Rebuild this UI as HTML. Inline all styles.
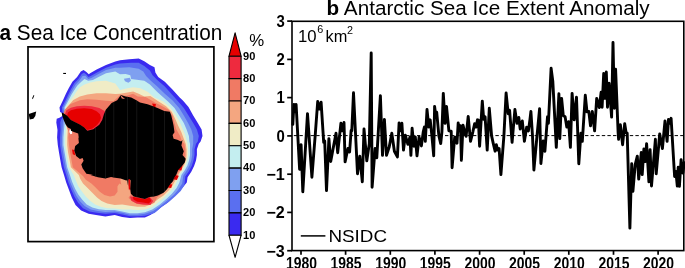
<!DOCTYPE html>
<html><head><meta charset="utf-8">
<style>
html,body{margin:0;padding:0;background:#fff;}
svg{display:block;font-family:"Liberation Sans",sans-serif;}
.tk{font-weight:bold;font-size:16.3px;}
.cb{font-weight:bold;font-size:11px;}
</style></head><body>
<svg width="685" height="268" viewBox="0 0 685 268">
<rect width="685" height="268" fill="#fff"/>
<!-- panel a title -->
<text id="ta" x="-0.5" y="40" font-size="21.2" textLength="222.8" lengthAdjust="spacingAndGlyphs"><tspan font-weight="bold">a</tspan> Sea Ice Concentration</text>
<!-- MAP -->
<g id="map">
<polygon points="120.0,60.3 129.3,59.3 138.7,58.4 144.3,61.2 149.9,64.9 154.5,67.2 155.4,72.4 158.2,77.1 164.8,81.7 172.2,89.2 179.7,97.6 182.9,100.6 188.5,107.1 193.2,115.5 197.8,123.0 201.6,129.5 202.5,136.0 200.6,141.6 198.8,143.7 196.9,149.3 196.9,154.9 196.0,160.5 194.1,166.1 191.3,171.7 187.6,177.3 186.8,182.5 183.1,187.1 178.4,191.8 172.8,197.4 167.2,203.0 161.6,206.7 156.0,211.4 150.4,215.1 144.9,217.5 137.4,217.5 129.9,217.9 122.2,217.0 114.7,215.1 105.4,216.4 96.0,215.1 88.6,213.8 81.1,210.4 75.5,204.9 71.8,197.4 69.0,189.9 66.2,182.5 64.0,175.0 61.6,167.3 60.3,159.9 59.0,152.4 57.8,144.9 57.1,137.5 57.5,130.0 56.3,122.4 56.7,118.7 59.5,117.7 62.3,115.9 63.2,113.4 60.1,112.1 59.5,107.5 63.1,100.0 65.9,93.8 68.7,88.2 72.4,81.7 77.1,77.1 80.8,71.5 83.6,70.1 86.4,72.0 88.8,74.3 90.1,73.3 96.6,69.6 106.0,64.9 115.3,61.6" fill="#3a2af0" />
<polygon points="120.0,63.4 131.2,62.7 138.7,62.7 144.3,65.9 149.9,70.5 152.6,75.2 157.3,79.9 164.8,86.4 172.2,94.8 177.3,100.6 183.8,108.1 188.5,115.5 193.2,123.0 196.9,129.5 198.8,136.0 197.8,141.6 196.0,143.7 194.5,149.3 194.5,154.9 193.5,160.5 191.7,166.1 188.9,171.3 185.3,176.6 184.4,185.3 180.7,190.9 175.6,196.1 169.1,201.7 161.6,207.1 154.6,212.9 144.9,215.7 137.4,216.2 129.9,216.2 122.2,214.6 114.7,212.9 105.4,213.8 97.0,212.7 89.5,211.4 83.0,208.2 78.3,203.0 74.6,197.0 71.4,189.9 68.4,182.5 66.2,175.0 63.8,167.3 62.5,159.9 61.2,152.4 60.1,144.9 60.1,137.5 60.6,130.0 60.3,122.4 61.2,119.6 62.7,117.7 64.2,115.9 64.6,113.4 62.3,112.1 61.9,107.5 65.7,100.0 68.3,94.4 70.9,89.2 74.3,83.2 78.4,78.9 81.7,73.9 84.0,72.8 86.4,74.6 88.4,77.1 90.7,76.1 97.0,72.4 106.0,67.7 115.3,64.6" fill="#5a6ff0" />
<polygon points="120.0,67.7 129.3,67.2 138.7,68.7 143.3,71.5 146.1,76.1 150.8,80.8 157.3,86.4 164.8,93.8 172.6,100.6 179.2,108.1 183.8,115.5 188.1,123.0 191.3,129.5 193.2,136.0 193.2,141.6 193.2,143.7 192.2,149.3 192.2,154.9 191.3,160.5 189.4,165.7 186.6,170.8 183.3,175.8 182.2,183.4 178.4,189.6 173.8,195.0 167.2,200.6 160.7,205.8 153.2,211.0 144.9,213.8 137.4,214.7 129.9,214.7 122.2,212.7 114.7,211.4 105.4,211.9 97.9,211.0 90.8,209.5 84.9,206.3 80.2,201.5 76.5,195.9 73.3,189.6 70.3,182.5 68.1,175.0 65.7,167.3 64.4,159.9 63.1,152.4 61.9,144.9 61.9,137.5 62.5,130.0 62.9,122.4 63.6,119.6 64.4,117.7 65.1,115.9 65.5,113.4 63.8,111.2 63.4,107.5 67.2,100.0 69.8,94.8 72.4,89.9 75.7,84.5 79.5,80.4 82.6,76.1 85.4,75.7 88.2,78.9 91.4,78.0 97.6,74.6 106.0,70.1 115.3,67.7" fill="#7fa0f0" />
<polygon points="120.0,74.3 125.6,73.9 130.3,75.2 131.2,78.9 138.7,79.9 144.3,80.8 149.9,84.5 157.3,92.0 168.0,101.5 174.5,108.1 179.2,115.5 183.8,123.0 186.6,129.5 188.9,136.0 189.4,141.6 190.0,143.7 190.0,149.3 190.0,154.9 189.1,160.5 187.4,165.4 184.8,170.2 181.4,175.1 179.4,182.5 176.6,188.1 171.9,193.7 166.3,198.9 159.8,204.5 152.3,209.5 144.9,212.3 137.4,213.2 129.9,213.2 122.2,211.4 114.7,210.1 105.7,210.1 98.8,209.3 92.3,207.6 86.7,204.5 82.1,199.6 78.3,194.6 75.1,188.8 72.2,182.1 69.9,175.0 67.2,167.3 65.9,159.9 64.6,152.4 63.4,144.9 63.4,137.5 64.0,130.0 64.7,122.4 65.5,119.6 65.7,117.7 66.0,115.9 66.4,113.4 64.9,111.2 64.6,107.5 68.7,100.0 71.3,95.1 73.9,90.7 77.2,85.8 81.0,82.1 84.5,78.9 88.2,80.8 92.9,79.9 98.5,77.1 106.0,73.3 115.3,71.5" fill="#c4eef0" />
<polygon points="120.0,90.1 127.5,88.2 133.1,87.3 140.5,88.2 148.0,92.0 154.5,97.6 163.3,101.5 169.9,107.1 175.4,114.6 179.2,121.1 182.0,127.6 184.8,134.2 186.3,139.8 187.6,143.7 188.1,149.3 188.1,154.9 187.4,160.1 185.7,165.0 183.1,169.9 179.9,174.5 174.7,186.2 170.0,191.8 164.4,197.4 158.8,202.1 152.3,207.1 144.9,209.5 137.4,210.1 129.9,209.5 122.2,209.5 114.7,208.6 107.2,208.2 100.7,206.7 95.1,204.5 90.4,201.1 85.8,196.5 82.1,191.8 78.3,186.2 75.9,180.6 73.7,175.0 69.0,167.3 67.7,159.9 66.4,152.4 65.3,144.9 65.3,137.5 65.9,130.0 66.6,122.4 67.4,119.6 67.0,117.7 67.2,115.9 67.5,113.4 66.0,111.2 65.7,107.5 70.5,100.0 73.3,96.6 76.1,92.0 79.9,87.3 84.5,84.5 90.1,82.6 96.6,81.3 106.0,80.8 115.3,83.6" fill="#f0ecc6" />
<polygon points="120.0,93.8 127.5,92.5 133.1,91.4 138.7,93.8 144.3,96.6 150.3,95.9 158.7,101.5 166.1,106.2 171.7,111.8 175.4,119.3 178.2,125.8 181.4,132.3 183.8,138.8 185.7,143.7 186.6,149.3 186.6,154.9 186.1,159.8 184.4,164.6 181.8,169.3 178.8,174.0 172.8,185.3 169.1,189.9 163.5,195.5 157.9,199.3 152.3,203.9 144.9,206.7 137.4,206.7 129.9,205.8 122.2,204.5 114.7,204.9 107.2,203.4 101.6,201.1 97.0,197.4 92.3,192.7 87.6,188.1 83.0,183.4 80.2,178.7 78.9,175.0 70.9,167.3 69.6,159.9 68.1,152.4 67.2,144.9 67.2,137.5 67.7,130.0 68.3,122.4 69.0,119.6 68.7,117.7 68.3,115.9 68.7,113.4 67.2,111.2 66.8,107.5 73.3,100.0 79.9,96.6 87.3,94.4 96.6,93.3 106.0,93.3 115.3,94.0" fill="#f4a680" />
<polygon points="120.0,95.3 126.5,95.7 133.1,93.8 137.7,96.6 145.6,96.9 154.9,102.5 162.4,106.2 168.9,109.9 172.6,115.5 174.5,123.0 176.4,129.5 180.1,136.0 182.0,141.6 184.4,143.7 185.3,149.3 185.3,154.9 185.0,159.4 183.3,164.3 180.7,168.7 177.7,173.6 171.0,184.3 167.2,188.4 162.6,193.3 157.0,197.4 154.2,203.0 144.9,204.9 137.4,203.9 131.8,201.1 128.1,197.4 124.0,186.2 119.4,183.4 117.5,186.2 117.5,191.8 114.7,195.5 110.0,196.5 104.4,195.1 99.8,191.8 95.1,187.1 91.4,183.4 85.8,179.7 83.0,175.9 72.8,167.3 71.5,159.9 70.1,152.4 69.0,144.9 68.3,137.5 68.7,131.9 64.0,119.9 63.1,114.3 64.9,109.6 70.5,104.0 79.9,100.3 87.3,99.3 96.6,99.7 106.0,100.8 113.4,101.2" fill="#f07a64" />
<polygon points="123.9,78.8 129.9,77.8 131.0,80.8 128.4,82.7 125.0,81.2" fill="#7fa0f0" />
<polygon points="120.2,178.7 128.1,179.1 128.4,186.2 130.9,194.6 128.1,198.3 123.4,193.7 121.5,186.2" fill="#f4a680" />
<polygon points="129.9,196.5 139.3,197.4 144.9,198.7 149.5,196.8 153.2,201.1 150.4,204.9 143.0,204.5 136.5,203.4 131.4,200.7" fill="#ee2a3e" />
<polygon points="64.9,114.3 66.4,110.2 70.9,107.7 76.9,106.2 84.3,105.7 91.8,106.2 99.3,108.0 104.5,111.0 107.5,115.4 107.5,119.9 104.5,124.4 100.7,127.4 94.8,130.7 87.3,131.9 84.3,127.4 79.9,124.4 75.4,122.2 70.9,119.9 67.2,115.7" fill="#ee2a3e" />
<polygon points="132.7,197.0 139.3,198.3 144.9,199.3 149.5,197.4 151.4,201.1 148.6,203.5 143.0,202.6 137.4,201.7 133.7,199.8" fill="#e60000" />
<polygon points="128.4,178.4 129.9,178.4 130.7,189.6 128.8,189.6" fill="#e60000" />
<polygon points="152.1,103.4 155.9,104.0 155.3,107.7 153.1,106.6" fill="#e60000" />
<polygon points="178.6,164.3 182.5,165.4 181.4,170.4 177.9,169.9" fill="#e60000" />
<polygon points="174.1,174.7 178.8,175.8 176.9,180.1 173.2,179.2" fill="#e60000" />
<polygon points="167.6,183.7 172.3,184.4 171.2,188.1 167.1,187.4" fill="#e60000" />
<polygon points="72.0,149.6 74.3,150.1 75.2,155.2 72.8,154.3" fill="#e60000" />
<polygon points="67.2,115.4 67.9,112.5 70.9,110.2 76.9,108.7 84.3,108.3 91.8,108.9 96.6,111.3 100.0,114.3 101.0,117.7 100.0,121.1 97.0,125.1 92.5,128.6 87.3,130.1 84.3,127.4 79.9,124.4 75.4,122.2 70.9,119.9" fill="#e60000" />
<polygon points="69.7,129.6 71.9,130.1 72.2,133.7 70.4,134.3 69.3,131.9" fill="#fff" />
<clipPath id="lc"><polygon points="120.0,94.8 125.6,96.6 131.2,97.6 135.9,100.0 140.0,102.5 147.5,104.3 153.1,106.2 158.7,108.4 164.3,110.9 169.9,111.8 171.3,115.5 172.6,121.1 173.6,125.8 174.5,132.3 172.6,135.1 173.6,138.8 177.3,139.8 181.0,141.6 182.5,140.0 181.4,145.6 183.8,151.2 182.5,154.9 185.7,158.7 184.8,162.4 182.0,166.1 178.2,169.9 176.4,174.5 174.5,177.3 172.6,181.0 169.9,184.8 168.0,186.6 177.5,175.0 174.7,178.7 171.9,182.5 170.0,184.3 167.2,189.0 163.5,192.7 157.9,195.5 154.2,196.5 149.5,197.0 144.9,198.9 139.3,197.8 133.7,196.5 130.9,193.7 130.3,189.0 130.7,180.6 129.6,179.1 128.4,179.5 128.1,186.2 127.3,180.2 126.2,180.6 120.6,178.4 115.0,177.8 111.0,176.9 105.4,178.4 97.9,177.2 90.4,175.0 92.9,174.8 86.4,173.8 82.6,168.2 81.3,164.5 83.6,160.8 82.6,158.0 79.9,158.9 76.1,156.1 74.3,150.5 75.2,145.9 78.9,143.1 78.4,138.4 78.7,137.3 78.2,133.6 73.9,132.1 70.9,130.8 70.9,128.9 67.9,127.4 65.7,124.4 63.7,119.9 62.2,115.4 61.6,112.5 63.4,113.2 65.7,114.7 67.2,115.7 70.9,119.9 75.4,122.2 79.9,124.4 84.3,127.4 87.3,130.7 93.3,129.2 99.3,124.7 102.2,119.9 104.0,114.0 106.0,109.5 111.6,103.1 117.2,100.3 120.5,95.6 121.8,98.4 125.0,99.0" fill="#000" /></clipPath>
<polygon points="120.0,94.8 125.6,96.6 131.2,97.6 135.9,100.0 140.0,102.5 147.5,104.3 153.1,106.2 158.7,108.4 164.3,110.9 169.9,111.8 171.3,115.5 172.6,121.1 173.6,125.8 174.5,132.3 172.6,135.1 173.6,138.8 177.3,139.8 181.0,141.6 182.5,140.0 181.4,145.6 183.8,151.2 182.5,154.9 185.7,158.7 184.8,162.4 182.0,166.1 178.2,169.9 176.4,174.5 174.5,177.3 172.6,181.0 169.9,184.8 168.0,186.6 177.5,175.0 174.7,178.7 171.9,182.5 170.0,184.3 167.2,189.0 163.5,192.7 157.9,195.5 154.2,196.5 149.5,197.0 144.9,198.9 139.3,197.8 133.7,196.5 130.9,193.7 130.3,189.0 130.7,180.6 129.6,179.1 128.4,179.5 128.1,186.2 127.3,180.2 126.2,180.6 120.6,178.4 115.0,177.8 111.0,176.9 105.4,178.4 97.9,177.2 90.4,175.0 92.9,174.8 86.4,173.8 82.6,168.2 81.3,164.5 83.6,160.8 82.6,158.0 79.9,158.9 76.1,156.1 74.3,150.5 75.2,145.9 78.9,143.1 78.4,138.4 78.7,137.3 78.2,133.6 73.9,132.1 70.9,130.8 70.9,128.9 67.9,127.4 65.7,124.4 63.7,119.9 62.2,115.4 61.6,112.5 63.4,113.2 65.7,114.7 67.2,115.7 70.9,119.9 75.4,122.2 79.9,124.4 84.3,127.4 87.3,130.7 93.3,129.2 99.3,124.7 102.2,119.9 104.0,114.0 106.0,109.5 111.6,103.1 117.2,100.3 120.5,95.6 121.8,98.4 125.0,99.0" fill="#000" />
<g clip-path="url(#lc)" stroke="#2b2b2b" stroke-width="0.5"><line x1="95.50" y1="90" x2="95.50" y2="200"/><line x1="105.50" y1="90" x2="105.50" y2="200"/><line x1="113.75" y1="90" x2="113.75" y2="200"/><line x1="127.50" y1="90" x2="127.50" y2="200"/><line x1="136.75" y1="90" x2="136.75" y2="200"/><line x1="153.25" y1="90" x2="153.25" y2="200"/><line x1="164.50" y1="90" x2="164.50" y2="200"/></g>
<polygon points="28.7,114.0 36.2,111.6 35.3,115.9 33.4,118.7 29.7,119.6" fill="#000" />
<polygon points="63.2,72.9 66.0,72.9 66.0,74.0 63.2,74.0" fill="#000" />
<polygon points="32.1,98.2 33.6,95.1 34.3,95.4 32.8,99.2" fill="#000" />
</g>
<rect x="28" y="46.85" width="185.9" height="194.75" fill="none" stroke="#000" stroke-width="1.7"/>
<!-- colorbar -->
<g id="cbar" stroke="#000" stroke-width="1.1" stroke-linejoin="round">
<polygon points="229,56.20 235.1,32.8 241.1,56.20" fill="#e60000"/>
<rect x="229" y="56.20" width="12.1" height="22.38" fill="#ee2a3e"/>
<rect x="229" y="78.58" width="12.1" height="22.38" fill="#f07a64"/>
<rect x="229" y="100.96" width="12.1" height="22.38" fill="#f4a680"/>
<rect x="229" y="123.34" width="12.1" height="22.38" fill="#f0ecc6"/>
<rect x="229" y="145.72" width="12.1" height="22.38" fill="#c4eef0"/>
<rect x="229" y="168.10" width="12.1" height="22.38" fill="#7fa0f0"/>
<rect x="229" y="190.48" width="12.1" height="22.38" fill="#5a6ff0"/>
<rect x="229" y="212.86" width="12.1" height="22.38" fill="#3a2af0"/>
<polygon points="229,235.24 235.1,257.3 241.1,235.24" fill="#fff"/>
</g>
<g class="cb">
<text x="243" y="59.5" textLength="12.3" lengthAdjust="spacingAndGlyphs">90</text>
<text x="243" y="81.9" textLength="12.3" lengthAdjust="spacingAndGlyphs">80</text>
<text x="243" y="104.3" textLength="12.3" lengthAdjust="spacingAndGlyphs">70</text>
<text x="243" y="126.6" textLength="12.3" lengthAdjust="spacingAndGlyphs">60</text>
<text x="243" y="149.0" textLength="12.3" lengthAdjust="spacingAndGlyphs">50</text>
<text x="243" y="171.4" textLength="12.3" lengthAdjust="spacingAndGlyphs">40</text>
<text x="243" y="193.8" textLength="12.3" lengthAdjust="spacingAndGlyphs">30</text>
<text x="243" y="216.2" textLength="12.3" lengthAdjust="spacingAndGlyphs">20</text>
<text x="243" y="238.5" textLength="12.3" lengthAdjust="spacingAndGlyphs">10</text>
</g>
<text x="249.3" y="46.1" font-size="16.8">%</text>
<!-- panel b -->
<text id="tb" x="326.6" y="14.8" font-size="20" textLength="323" lengthAdjust="spacingAndGlyphs"><tspan font-weight="bold">b</tspan> Antarctic Sea Ice Extent Anomaly</text>
<line x1="292" y1="135.6" x2="683.8" y2="135.6" stroke="#000" stroke-width="1" stroke-dasharray="3.4 2.2" stroke-dashoffset="3.8"/>
<g id="series">
<polyline points="292.8,124.4 293.9,104.5 294.9,111.8 296.1,104.5 299.6,169.2 301.1,144.7 302.8,191.8 307.5,113.7 311.9,177.2 315.4,132.8 317.7,101.5 319.3,109.1 321.1,102.2 323.7,142.4 324.7,140.9 326.5,190.6 328.9,138.6 330.7,161.5 336.0,133.2 337.7,152.7 340.9,123.3 342.5,130.9 344.0,122.5 345.1,161.9 347.9,148.5 349.6,152.0 351.1,130.5 351.8,130.9 353.5,92.7 357.5,173.8 359.8,156.2 362.3,181.8 364.0,129.0 366.8,160.8 369.3,143.6 371.2,52.9 372.1,187.2 375.1,148.5 376.8,157.7 380.4,95.7 382.5,155.4 384.4,119.4 386.5,155.4 389.1,147.4 391.8,133.2 394.4,151.2 397.4,156.9 399.1,122.9 400.5,130.9 401.9,123.3 403.5,150.1 405.3,135.1 407.9,144.3 410.0,137.0 410.9,155.4 412.1,128.2 413.9,146.2 415.3,137.0 417.0,155.8 419.1,137.0 421.4,145.9 423.2,132.1 424.4,127.1 425.3,141.3 427.0,109.5 428.8,127.1 430.2,119.8 431.9,135.9 433.7,155.8 434.6,106.4 435.8,115.6 436.7,112.2 438.9,135.9 440.7,143.6 441.9,132.1 443.3,93.4 445.1,123.3 446.5,106.4 448.9,130.9 451.2,131.3 452.1,167.7 454.7,137.0 457.0,143.2 458.2,122.9 459.6,130.9 460.5,125.6 461.4,160.4 463.0,125.2 464.7,132.1 466.1,136.3 468.2,116.4 470.5,141.3 472.8,132.1 474.6,123.7 476.0,127.1 477.5,119.8 478.4,120.2 479.6,146.2 482.3,101.1 483.7,119.4 485.1,116.8 487.2,150.1 489.3,108.3 491.6,135.9 493.3,143.6 495.1,151.2 496.3,144.7 497.7,150.1 499.1,148.5 500.9,174.6 503.9,135.9 506.1,93.0 508.2,113.7 509.6,110.3 512.1,142.4 514.9,109.5 517.0,123.3 518.8,117.5 520.2,129.0 522.3,121.0 524.4,141.3 526.7,127.1 528.4,130.9 530.0,119.1 530.9,111.4 532.5,135.9 533.9,170.0 537.0,135.9 539.6,108.7 540.9,163.5 543.2,140.9 544.9,151.2 547.5,116.8 548.4,123.3 551.1,68.2 552.8,81.2 556.3,147.4 558.9,93.8 559.8,138.6 561.6,98.4 563.3,115.6 565.1,116.8 566.8,127.1 568.6,121.7 570.4,147.4 572.1,93.4 574.2,119.8 576.5,97.2 578.8,163.8 580.9,133.2 582.3,141.3 585.3,95.3 587.0,111.8 588.8,111.4 590.5,125.9 592.3,111.4 594.6,130.9 596.7,98.4 599.3,107.6 601.1,92.3 602.1,107.2 603.7,73.5 604.8,98.4 606.3,72.0 607.5,107.2 609.1,83.1 611.6,117.1 613.0,42.5 614.4,108.3 615.6,69.3 618.1,132.1 618.6,139.3 620.4,124.8 622.6,144.7 624.7,123.7 626.1,132.8 627.2,133.2 629.9,228.1 631.7,163.8 632.9,191.4 635.2,164.6 637.3,156.2 638.7,179.1 641.3,152.4 642.2,174.6 643.9,148.9 645.4,161.5 646.6,143.6 648.9,181.8 650.1,149.7 651.5,186.0 655.4,139.3 656.2,173.8 659.7,134.0 662.4,148.5 665.0,121.0 667.1,141.3 668.5,119.4 669.7,123.3 671.1,118.3 674.6,176.5 675.9,171.5 677.3,186.0 678.2,167.3 679.4,186.4 681.1,159.6 682.9,173.0 684.3,162.7" fill="none" stroke="#000" stroke-width="2.9" stroke-linejoin="round" stroke-linecap="round"/>
</g>
<rect x="292" y="21.3" width="391.8" height="229.3" fill="none" stroke="#000" stroke-width="1.6"/>
<g id="ticks" stroke="#000" stroke-width="1.7">
<line x1="287.2" y1="250.7" x2="292" y2="250.7"/>
<line x1="287.2" y1="212.4" x2="292" y2="212.4"/>
<line x1="287.2" y1="174.2" x2="292" y2="174.2"/>
<line x1="287.2" y1="135.9" x2="292" y2="135.9"/>
<line x1="287.2" y1="97.6" x2="292" y2="97.6"/>
<line x1="287.2" y1="59.4" x2="292" y2="59.4"/>
<line x1="287.2" y1="21.1" x2="292" y2="21.1"/>
<line x1="301.0" y1="250.6" x2="301.0" y2="254.8"/>
<line x1="345.6" y1="250.6" x2="345.6" y2="254.8"/>
<line x1="390.3" y1="250.6" x2="390.3" y2="254.8"/>
<line x1="434.9" y1="250.6" x2="434.9" y2="254.8"/>
<line x1="479.6" y1="250.6" x2="479.6" y2="254.8"/>
<line x1="524.2" y1="250.6" x2="524.2" y2="254.8"/>
<line x1="568.8" y1="250.6" x2="568.8" y2="254.8"/>
<line x1="613.5" y1="250.6" x2="613.5" y2="254.8"/>
<line x1="658.1" y1="250.6" x2="658.1" y2="254.8"/>
</g>
<g class="tk" text-anchor="end">
<text x="284.8" y="26.8" textLength="8.3" lengthAdjust="spacingAndGlyphs">3</text>
<text x="284.8" y="65.1" textLength="8.3" lengthAdjust="spacingAndGlyphs">2</text>
<text x="284.8" y="103.4" textLength="8.3" lengthAdjust="spacingAndGlyphs">1</text>
<text x="284.8" y="141.7" textLength="8.3" lengthAdjust="spacingAndGlyphs">0</text>
<text x="284.8" y="179.9" textLength="18.4" lengthAdjust="spacingAndGlyphs">−1</text>
<text x="284.8" y="218.2" textLength="18.4" lengthAdjust="spacingAndGlyphs">−2</text>
<text x="284.8" y="256.5" textLength="18.4" lengthAdjust="spacingAndGlyphs">−3</text>
</g>
<g class="tk" text-anchor="middle">
<text x="301.4" y="268.6" textLength="31" lengthAdjust="spacingAndGlyphs">1980</text>
<text x="346.0" y="268.6" textLength="31" lengthAdjust="spacingAndGlyphs">1985</text>
<text x="390.7" y="268.6" textLength="31" lengthAdjust="spacingAndGlyphs">1990</text>
<text x="435.3" y="268.6" textLength="31" lengthAdjust="spacingAndGlyphs">1995</text>
<text x="480.0" y="268.6" textLength="31" lengthAdjust="spacingAndGlyphs">2000</text>
<text x="524.6" y="268.6" textLength="31" lengthAdjust="spacingAndGlyphs">2005</text>
<text x="569.2" y="268.6" textLength="31" lengthAdjust="spacingAndGlyphs">2010</text>
<text x="613.9" y="268.6" textLength="31" lengthAdjust="spacingAndGlyphs">2015</text>
<text x="658.5" y="268.6" textLength="31" lengthAdjust="spacingAndGlyphs">2020</text>
</g>
<text x="297.9" y="41.9" font-size="16.2" textLength="18.6" lengthAdjust="spacingAndGlyphs">10</text>
<text x="317.3" y="32.9" font-size="10.8">6</text>
<text x="325.5" y="41.9" font-size="16.4" textLength="21.8" lengthAdjust="spacingAndGlyphs">km</text>
<text x="347" y="33.9" font-size="10.8">2</text>
<line x1="300.8" y1="235.9" x2="325.4" y2="235.9" stroke="#000" stroke-width="1.5"/>
<text x="328.4" y="242" font-size="17.3" textLength="58.6" lengthAdjust="spacingAndGlyphs">NSIDC</text>
</svg>
</body></html>
